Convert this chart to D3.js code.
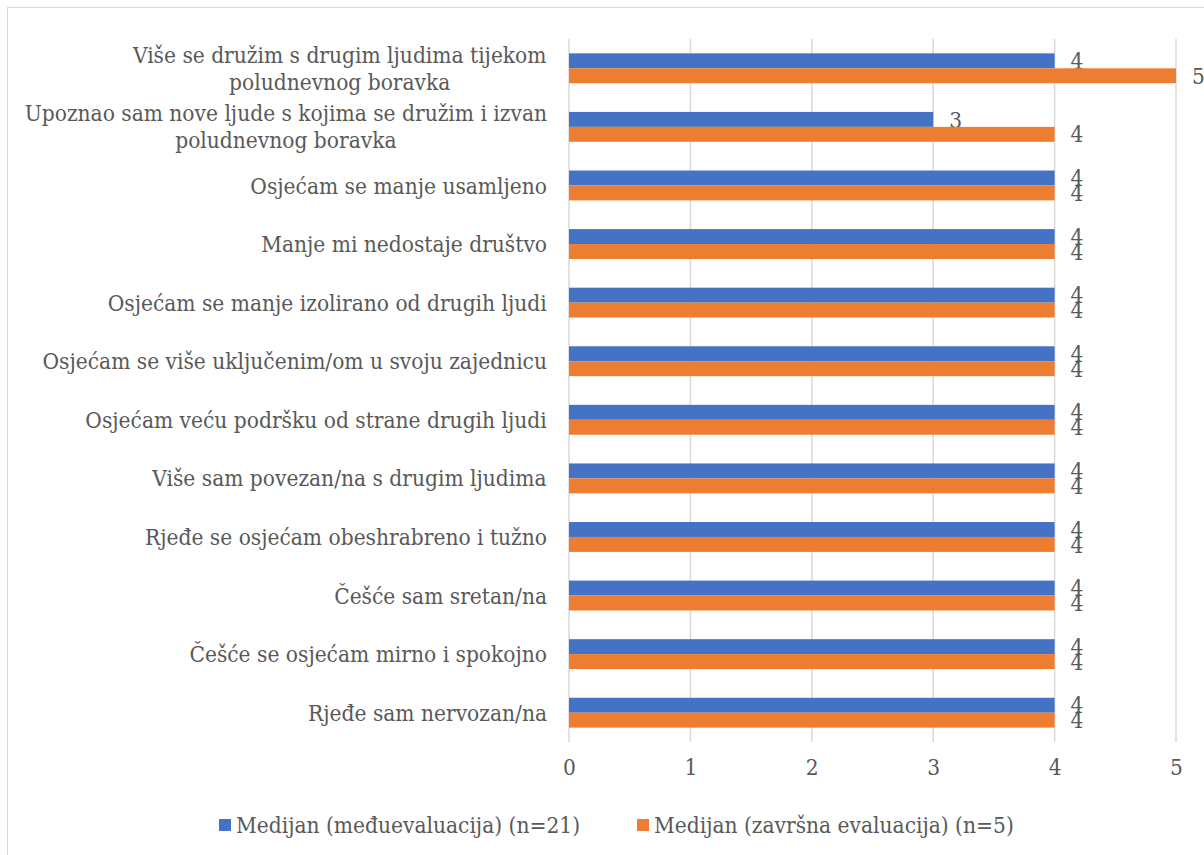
<!DOCTYPE html>
<html>
<head>
<meta charset="utf-8">
<script src="https://cdn.jsdelivr.net/npm/d3@7"></script>
<style>
  html, body { margin: 0; padding: 0; background: #fff; }
  svg text { font-family: "DejaVu Serif Condensed", "DejaVu Serif", serif; fill: #595959; }
</style>
</head>
<body>
<svg id="chart" width="1204" height="855"></svg>
<script>
const categories = [
  "Više se družim s drugim ljudima tijekom\npoludnevnog boravka",
  "Upoznao sam nove ljude s kojima se družim i izvan\npoludnevnog boravka",
  "Osjećam se manje usamljeno",
  "Manje mi nedostaje društvo",
  "Osjećam se manje izolirano od drugih ljudi",
  "Osjećam se više uključenim/om u svoju zajednicu",
  "Osjećam veću podršku od strane drugih ljudi",
  "Više sam povezan/na s drugim ljudima",
  "Rjeđe se osjećam obeshrabreno i tužno",
  "Češće sam sretan/na",
  "Češće se osjećam mirno i spokojno",
  "Rjeđe sam nervozan/na"
];
const seriesNames = ["Medijan (međuevaluacija) (n=21)", "Medijan (završna evaluacija) (n=5)"];
const midValues = [4, 3, 4, 4, 4, 4, 4, 4, 4, 4, 4, 4];
const finalValues = [5, 4, 4, 4, 4, 4, 4, 4, 4, 4, 4, 4];
const xTicks = [0, 1, 2, 3, 4, 5];

const colors = ["#4472C4", "#ED7D31"];
const fs = 22.5;
const svg = d3.select("#chart");

// outer chart border
svg.append("rect").attr("x", 7.5).attr("y", 7.5).attr("width", 1210).attr("height", 860)
  .attr("fill", "none").attr("stroke", "#d9d9d9").attr("stroke-width", 1);

const plot = { left: 569, right: 1176, top: 39, bottom: 742 };
const x = d3.scaleLinear().domain([0, 5]).range([plot.left, plot.right]);
const y = d3.scaleBand().domain(d3.range(categories.length)).range([plot.top, plot.bottom]).paddingInner(0.49).paddingOuter(0.245);
const sub = d3.scaleBand().domain([0, 1]).range([0, y.bandwidth()]);

// gridlines
svg.append("g").selectAll("line").data(xTicks).join("line")
  .attr("x1", d => x(d)).attr("x2", d => x(d))
  .attr("y1", plot.top).attr("y2", plot.bottom)
  .attr("stroke", "#d9d9d9").attr("stroke-width", 1.5);

// x axis
const xAxis = svg.append("g").attr("transform", `translate(0,${plot.bottom})`)
  .call(d3.axisBottom(x).tickValues(xTicks).tickSize(0).tickPadding(17).tickFormat(d3.format("d")));
xAxis.select(".domain").remove();
xAxis.selectAll("text").attr("font-size", fs).attr("fill", "#595959")
  .style("font-family", '"DejaVu Serif Condensed", "DejaVu Serif", serif');

const series = [midValues, finalValues];
series.forEach((vals, si) => {
  svg.append("g").selectAll("rect").data(vals).join("rect")
    .attr("x", x(0))
    .attr("y", (d, i) => y(i) + sub(si))
    .attr("width", d => x(d) - x(0))
    .attr("height", sub.bandwidth())
    .attr("fill", colors[si]);
  svg.append("g").selectAll("text").data(vals).join("text")
    .attr("x", d => x(d) + 16)
    .attr("y", (d, i) => y(i) + sub(si) + sub.bandwidth() / 2)
    .attr("dy", "0.36em")
    .attr("font-size", fs)
    .text(d => d);
});

// category labels
const catG = svg.append("g");
categories.forEach((c, i) => {
  const lines = c.split("\n");
  const cy = y(i) + y.bandwidth() / 2;
  const lh = 27;
  const t = catG.append("text").attr("font-size", fs).attr("text-anchor", "middle");
  lines.forEach((ln, li) => {
    t.append("tspan").attr("x", 0).attr("y", cy + (li - (lines.length - 1) / 2) * lh).attr("dy", "0.36em").text(ln);
  });
  const w = t.node().getBBox().width;
  t.attr("transform", `translate(${547 - w / 2},0)`);
});

// legend
const legend = svg.append("g");
const legX = [219, 637];
seriesNames.forEach((n, i) => {
  legend.append("rect").attr("x", legX[i]).attr("y", 819).attr("width", 12).attr("height", 12).attr("fill", colors[i]);
  legend.append("text").attr("x", legX[i] + 17).attr("y", 825).attr("dy", "0.36em").attr("font-size", fs).text(n);
});
</script>
</body>
</html>
